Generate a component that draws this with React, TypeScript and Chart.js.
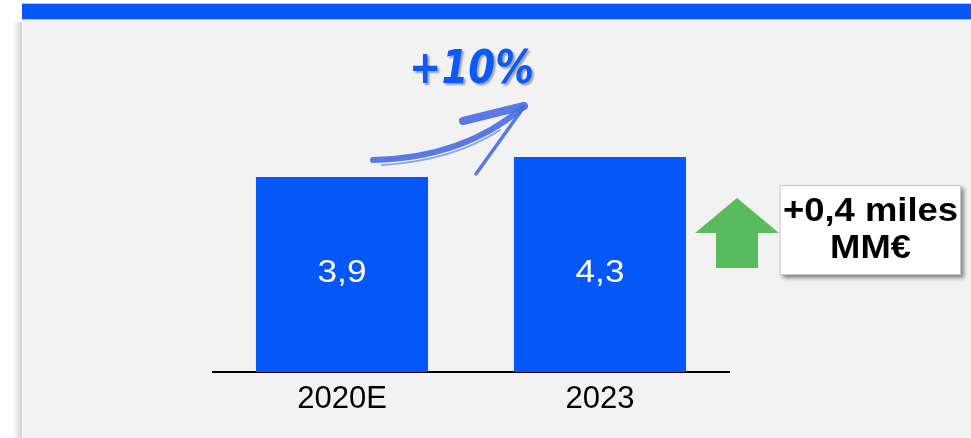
import React, { useEffect, useRef } from 'react';
import { Chart, registerables } from 'chart.js';

Chart.register(...registerables);

const categories = ['2020E', '2023'];
const values = [3.9, 4.3];
const valueLabels = ['3,9', '4,3'];
const growthLabel = '+10%';
const deltaLines = ['+0,4 miles', 'MM€'];

const BLUE = '#0657FA';
const W = 971;
const H = 438;

const decorPlugin = {
  id: 'decor',
  beforeDraw(chart: any) {
    const ctx = chart.ctx as CanvasRenderingContext2D;
    ctx.save();
    ctx.fillStyle = '#ffffff';
    ctx.fillRect(0, 0, W, H);
    const g = ctx.createLinearGradient(13, 0, 22, 0);
    g.addColorStop(0, 'rgba(0,0,0,0)');
    g.addColorStop(1, 'rgba(0,0,0,0.18)');
    ctx.fillStyle = g;
    ctx.fillRect(13, 22, 9, H - 22);
    ctx.fillStyle = '#F2F2F2';
    ctx.fillRect(22, 20, W - 22, H - 20);
    ctx.fillStyle = '#AAC4FC';
    ctx.fillRect(22, 3, W - 22, 17);
    ctx.fillStyle = BLUE;
    ctx.fillRect(22, 4, W - 22, 15);
    ctx.restore();
  },
  afterDatasetsDraw(chart: any) {
    const ctx = chart.ctx as CanvasRenderingContext2D;
    const meta = chart.getDatasetMeta(0);
    const yScale = chart.scales.y;
    const labelY =
      (yScale.getPixelForValue(0) + yScale.getPixelForValue(Math.min(...values))) / 2 - 1;
    ctx.save();
    ctx.fillStyle = '#ffffff';
    ctx.font = '32px "Liberation Sans", Arial, sans-serif';
    ctx.textAlign = 'center';
    ctx.textBaseline = 'middle';
    meta.data.forEach((bar: any, i: number) => {
      ctx.save();
      ctx.translate(bar.x, labelY);
      ctx.scale(1.1, 1);
      ctx.fillText(valueLabels[i], 0, 0);
      ctx.restore();
    });
    ctx.restore();
  },
  afterDraw(chart: any) {
    const ctx = chart.ctx as CanvasRenderingContext2D;
    ctx.save();
    // curved brush arrow
    ctx.strokeStyle = 'rgba(72,108,226,0.9)';
    ctx.lineCap = 'round';
    ctx.lineJoin = 'round';
    ctx.lineWidth = 6;
    ctx.beginPath();
    ctx.moveTo(373, 160);
    ctx.quadraticCurveTo(463, 158, 522, 108);
    ctx.stroke();
    ctx.lineWidth = 2;
    ctx.strokeStyle = 'rgba(72,108,226,0.6)';
    ctx.beginPath();
    ctx.moveTo(382, 165);
    ctx.quadraticCurveTo(452, 161, 500, 130);
    ctx.stroke();
    ctx.strokeStyle = 'rgba(72,108,226,0.9)';
    ctx.lineWidth = 8;
    ctx.beginPath();
    ctx.moveTo(463, 121);
    ctx.lineTo(524, 106);
    ctx.stroke();
    ctx.lineWidth = 3.5;
    ctx.beginPath();
    ctx.moveTo(524, 107);
    ctx.lineTo(476, 174);
    ctx.stroke();

    // +10% text
    ctx.save();
    ctx.font = 'italic bold 46px "DejaVu Sans", sans-serif';
    ctx.textAlign = 'center';
    ctx.textBaseline = 'alphabetic';
    ctx.shadowColor = 'rgba(0,0,0,0.35)';
    ctx.shadowBlur = 2;
    ctx.shadowOffsetX = 2;
    ctx.shadowOffsetY = 2;
    ctx.fillStyle = '#0A5AF5';
    ctx.translate(471.5, 83);
    ctx.scale(0.84, 1);
    ctx.fillText(growthLabel, 0, 0);
    ctx.restore();

    // green up arrow
    ctx.fillStyle = '#58BC5E';
    ctx.beginPath();
    ctx.moveTo(737, 198);
    ctx.lineTo(779, 233);
    ctx.lineTo(758, 233);
    ctx.lineTo(758, 268);
    ctx.lineTo(716, 268);
    ctx.lineTo(716, 233);
    ctx.lineTo(695, 233);
    ctx.closePath();
    ctx.fill();

    // delta box
    ctx.save();
    ctx.shadowColor = 'rgba(0,0,0,0.45)';
    ctx.shadowBlur = 4;
    ctx.shadowOffsetX = 3;
    ctx.shadowOffsetY = 3;
    ctx.fillStyle = '#ffffff';
    ctx.fillRect(780, 185, 181, 90);
    ctx.restore();
    ctx.strokeStyle = '#C8C8C8';
    ctx.lineWidth = 1;
    ctx.strokeRect(780.5, 185.5, 180, 89);
    ctx.fillStyle = '#000000';
    ctx.font = 'bold 34px "Liberation Sans", Arial, sans-serif';
    ctx.textAlign = 'center';
    ctx.textBaseline = 'middle';
    const ys = [212, 249];
    deltaLines.forEach((t, i) => {
      ctx.save();
      ctx.translate(870.5, ys[i]);
      ctx.scale(1.07, 1);
      ctx.fillText(t, 0, 0);
      ctx.restore();
    });
    ctx.restore();
  },
};

export default function App() {
  const ref = useRef<HTMLCanvasElement | null>(null);
  useEffect(() => {
    if (!ref.current) return;
    const chart = new Chart(ref.current, {
      type: 'bar',
      data: {
        labels: categories,
        datasets: [
          {
            data: values,
            backgroundColor: BLUE,
            borderWidth: 0,
            categoryPercentage: 1,
            barPercentage: 0.667,
          },
        ],
      },
      options: {
        responsive: false,
        animation: false,
        devicePixelRatio: 1,
        layout: { padding: { left: 213, right: 242, top: 72, bottom: 0 } },
        plugins: { legend: { display: false }, tooltip: { enabled: false } },
        scales: {
          x: {
            grid: { display: false, drawTicks: false },
            border: { display: true, color: '#000000', width: 2 },
            ticks: {
              color: '#000000',
              padding: 9,
              font: { size: 31, family: '"Liberation Sans", Arial, sans-serif' },
            },
            afterFit(scale: any) {
              scale.height = 66;
            },
          },
          y: { display: false, min: 0, max: 6 },
        },
      },
      plugins: [decorPlugin],
    });
    return () => chart.destroy();
  }, []);
  return (
    <div style={{ position: 'fixed', left: 0, top: 0, width: W, height: H }}>
      <canvas ref={ref} width={W} height={H} style={{ width: W, height: H, display: 'block' }} />
    </div>
  );
}
